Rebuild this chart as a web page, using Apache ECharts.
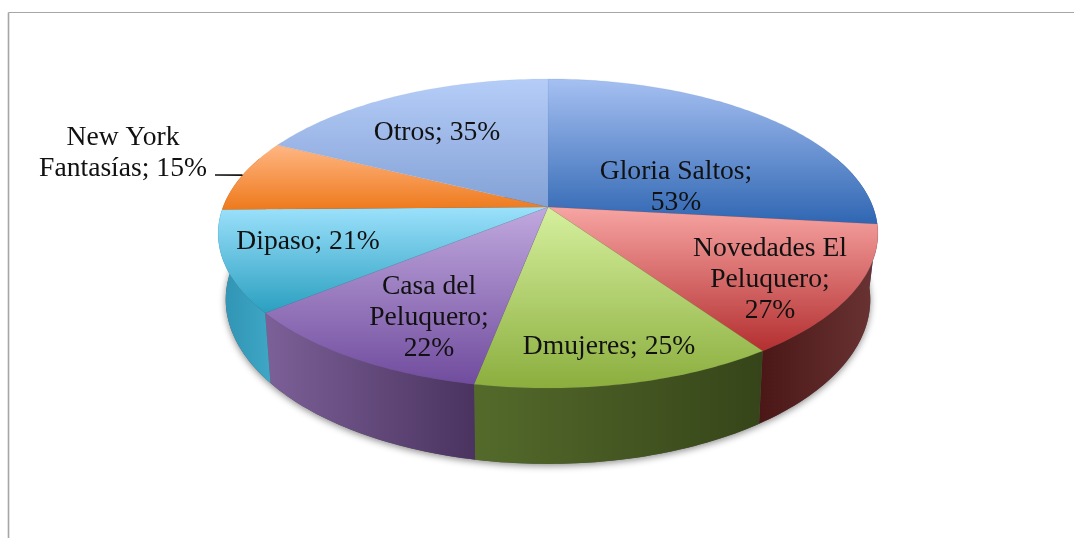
<!DOCTYPE html>
<html>
<head>
<meta charset="utf-8">
<style>html,body{margin:0;padding:0;background:#fff}#c{width:1074px;height:538px}</style>
<script src="https://cdn.jsdelivr.net/npm/echarts@6/dist/echarts.min.js"></script>
</head>
<body>
<div id="c"></div>
<script>
const categories = ['Gloria Saltos','Novedades El\nPeluquero','Dmujeres','Casa del\nPeluquero','Dipaso','New York\nFantasías','Otros'];
const values = [53,27,25,22,21,15,35];
const valueSeparators = [';\n',';\n','; ',';\n','; ','; ','; '];

const topColors = [['#A6C0F2','#2F66B2'],['#F7A5A3','#B42F30'],['#D6F09E','#8BAE3E'],['#C0A9DE','#714C9E'],['#9CE1FC','#2A9FC0'],['#FFB684','#EE7A1C'],['#B5CDF8','#83A1D6']];
const sideColors = [['#2B5590','#2B5590'],['#4B1616','#6A3434'],['#546A2B','#364519'],['#7C6098','#4A335F'],['#2F93B2','#3FA6C6'],['#B5652A','#B5652A'],['#6E8AC0','#6E8AC0']];
const labelCenters = [[676,187],[770,280],[609,347],[429,318],[308,242],[123,153],[437,133]];

const TOP = {cx:548, cy:207, a:325, b:150, p:0.1716};
const BASE = {cx:548, cy:270, a:317, b:159, p:0.18};
const FONT = '"Liberation Serif", serif';

const total = values.reduce((s,v)=>s+v,0);
const starts = []; let acc = 0;
values.forEach(v=>{starts.push(acc/total*360); acc+=v;});

function project(deg, m, r){
  const t = deg*Math.PI/180, rr = r===undefined?1:r;
  const s = Math.sin(t)*rr, c = Math.cos(t)*rr, w = 1+m.p*c;
  return [m.cx+m.a*s/w, m.cy-m.b*c/w];
}
function arc(a0,a1,m){
  const out=[], n=Math.max(2,Math.ceil(Math.abs(a1-a0)));
  for(let i=0;i<=n;i++) out.push(project(a0+(a1-a0)*i/n,m));
  return out;
}
const vgrad = c => new echarts.graphic.LinearGradient(0,0,0,1,[{offset:0,color:c[0]},{offset:1,color:c[1]}]);
const hgrad = c => new echarts.graphic.LinearGradient(0,0,1,0,[{offset:0,color:c[0]},{offset:1,color:c[1]}]);

const rows = values.map((v,i)=>[v,i]);

function renderTop(params, api){
  const i = api.value(1), a0 = starts[i], a1 = a0+api.value(0)/total*360;
  const pts = [project(0,TOP,0)].concat(arc(a0,a1,TOP));
  return {type:'polygon', shape:{points:pts}, style:{fill:vgrad(topColors[i]), stroke:topColors[i][1], lineWidth:0.3, strokeOpacity:0.4}};
}
function renderSide(params, api){
  const i = api.value(1), s = starts[i], e = s+api.value(0)/total*360;
  const a0 = Math.max(s,70), a1 = Math.min(e,290);
  if(a1<=a0) return null;
  const pts = arc(a0,a1,TOP).concat(arc(a1,a0,BASE));
  return {type:'polygon', shape:{points:pts}, style:{fill:hgrad(sideColors[i])}};
}
function renderShadow(params, api){
  return {type:'polygon', shape:{points:arc(60,300,BASE)},
    style:{fill:'#555', shadowBlur:7, shadowColor:'rgba(0,0,0,0.45)', shadowOffsetY:2, shadowOffsetX:0}};
}
function renderLabel(params, api){
  const i = api.value(1), c = labelCenters[i];
  const children = [{type:'text', x:c[0], y:c[1], style:{
    text:categories[i]+valueSeparators[i]+api.value(0)+'%',
    font:'27.6px '+FONT, fill:'#111', align:'center', verticalAlign:'middle', lineHeight:31}}];
  if(categories[i].indexOf('New York')===0){
    const end = project(starts[i]+api.value(0)/total*180,TOP);
    children.push({type:'line', shape:{x1:215,y1:175,x2:end[0],y2:end[1]}, style:{stroke:'#111',lineWidth:1.6}});
  }
  return {type:'group', children};
}

const chart = echarts.init(document.getElementById('c'),null,{renderer:'canvas'});
chart.setOption({
  animation:false,
  backgroundColor:'#fff',
  graphic:[
    {type:'line', silent:true, shape:{x1:8.5,y1:12.5,x2:1074,y2:12.5}, style:{stroke:'#A6A6A6',lineWidth:1.2}},
    {type:'line', silent:true, shape:{x1:8.5,y1:12.5,x2:8.5,y2:538}, style:{stroke:'#A6A6A6',lineWidth:1.6}}
  ],
  series:[
    {type:'custom', coordinateSystem:'none', z:1, silent:true, data:[rows[0]], renderItem:renderShadow},
    {type:'custom', coordinateSystem:'none', z:2, silent:true, data:rows, renderItem:renderSide},
    {type:'custom', coordinateSystem:'none', z:3, silent:true, data:rows, renderItem:renderTop},
    {type:'custom', coordinateSystem:'none', z:4, silent:true, data:rows, renderItem:renderLabel}
  ]
});
</script>
</body>
</html>
